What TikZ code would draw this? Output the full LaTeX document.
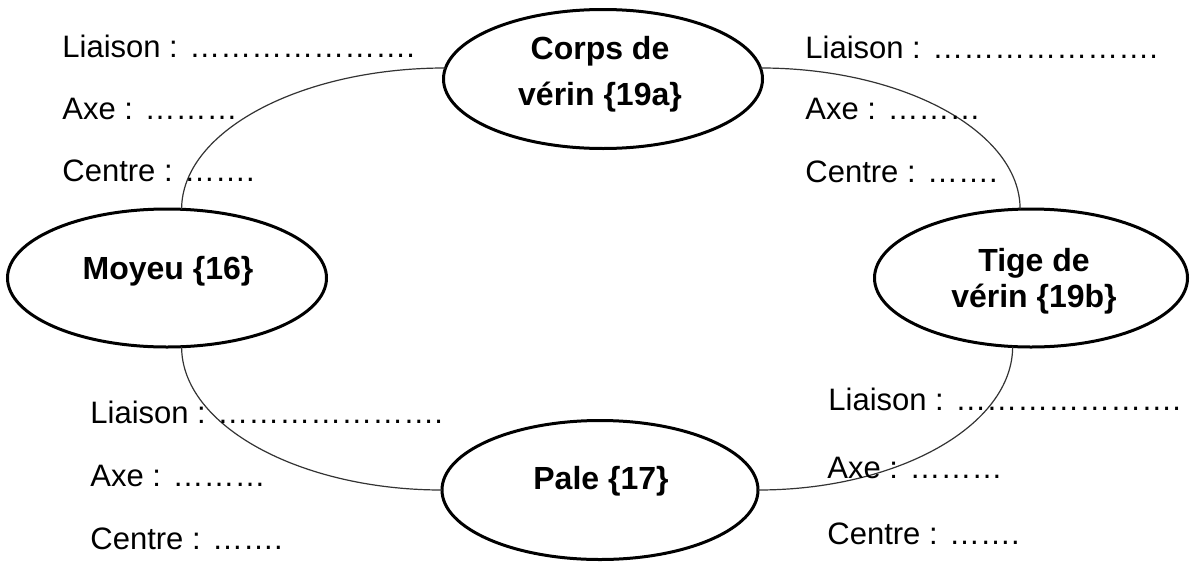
\documentclass[tikz,border=0pt]{standalone}
\usepackage{fontspec}
\setmainfont{Liberation Sans}
\usetikzlibrary{shapes.geometric}
\begin{document}
\begin{tikzpicture}[x=0.5pt,y=-0.5pt,
  part/.style={draw, ellipse, line width=1.5pt, inner sep=0pt, outer sep=0pt},
  partlabel/.style={font=\fontsize{16}{18}\selectfont\bfseries, align=center, inner sep=0pt},
  blank/.style={font=\fontsize{15.5}{18}\selectfont, anchor=base west, inner sep=0pt},
  link/.style={line width=0.6pt, draw=black!80}]
\useasboundingbox (0,0) rectangle (1192,562);
% parts
\node[part, minimum width=159.5pt, minimum height=69.5pt] (corps) at (603,79) {};
\node[part, minimum width=159.5pt, minimum height=69pt] (moyeu) at (167,278) {};
\node[part, minimum width=156.5pt, minimum height=69pt] (tige) at (1031,278) {};
\node[part, minimum width=158pt, minimum height=69.5pt] (pale) at (600,490) {};
% part labels
\node[partlabel] (tcorps) at (600,74) {Corps de\\[5pt]vérin \{19a\}};
\node[partlabel] (ttige) at (1034,281) {Tige de\\vérin \{19b\}};
\node[partlabel, anchor=base] (tmoyeu) at (168,279) {Moyeu \{16\}};
\node[partlabel, anchor=base] (tpale) at (601,489) {Pale \{17\}};
% connectors
\draw[link] (corps.176) .. controls +(-145,0) and +(0,-78) .. (moyeu.78);
\draw[link] (corps.4) .. controls +(142,0) and +(0,-78) .. (tige.99);
\draw[link] (moyeu.-78) .. controls +(0,79) and +(-142,0) .. (pale.west);
\draw[link] (tige.-105) .. controls +(0,79) and +(140,0) .. (pale.east);
% blanks top-left
\node[blank] (l1) at (62,57) {Liaison : ………………….};
\node[blank] (a1) at (62,119) {Axe : ………};
\node[blank] (c1) at (62,181) {Centre : …….};
% blanks top-right
\node[blank] (l2) at (805,58) {Liaison : ………………….};
\node[blank] (a2) at (805,119) {Axe : ………};
\node[blank] (c2) at (805,182) {Centre : …….};
% blanks bottom-left
\node[blank] (l3) at (90,423) {Liaison : ………………….};
\node[blank] (a3) at (90,486) {Axe : ………};
\node[blank] (c3) at (90,549) {Centre : …….};
% blanks bottom-right
\node[blank] (l4) at (828,410) {Liaison : ………………….};
\node[blank] (a4) at (827,478) {Axe : ………};
\node[blank] (c4) at (827,544) {Centre : …….};
\end{tikzpicture}
\end{document}
